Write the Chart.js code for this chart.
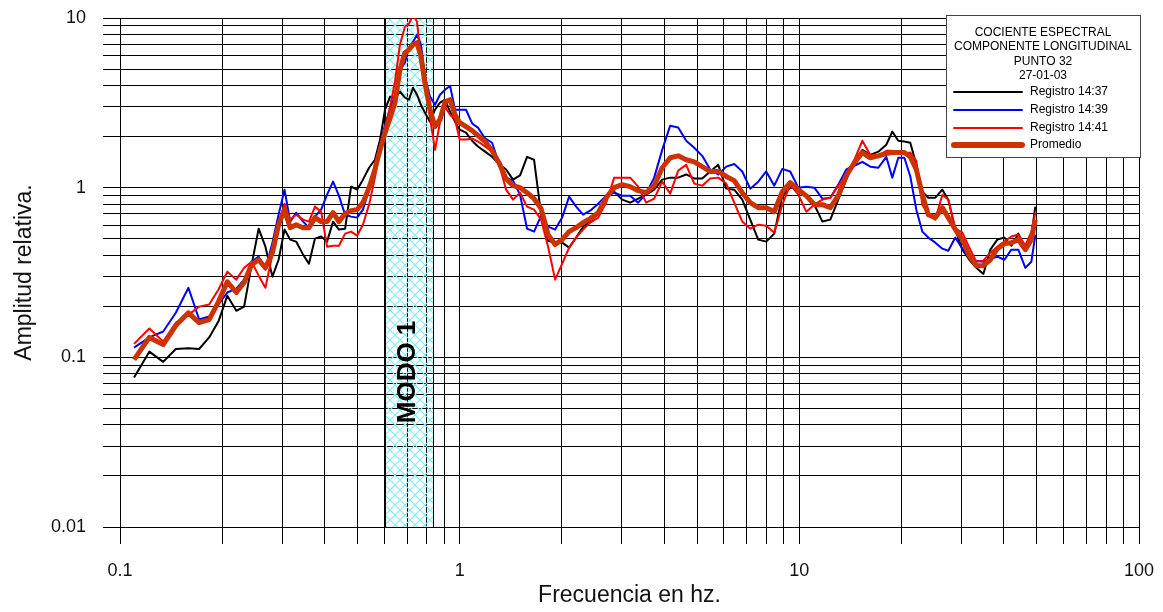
<!DOCTYPE html>
<html>
<head>
<meta charset="utf-8">
<script src="https://cdn.jsdelivr.net/npm/chart.js@4.4.1/dist/chart.umd.min.js"></script>
<style>
  html, body { margin: 0; padding: 0; background: #fff; }
  #wrap { width: 1163px; height: 612px; }
</style>
</head>
<body>
<div id="wrap"><canvas id="grafica"></canvas></div>
<script>
// frecuencias (Hz) comunes a todos los registros
const frecuencias = [
  0.110, 0.122, 0.134, 0.146, 0.159, 0.171, 0.183, 0.195, 0.207, 0.220,
  0.232, 0.244, 0.256, 0.268, 0.281, 0.293, 0.305, 0.317, 0.330, 0.346,
  0.360, 0.375, 0.391, 0.407, 0.424, 0.441, 0.460, 0.479, 0.499, 0.519,
  0.541, 0.563, 0.583, 0.603, 0.624, 0.645, 0.667, 0.690, 0.709, 0.729,
  0.749, 0.769, 0.790, 0.818, 0.846, 0.875, 0.906, 0.937, 0.969, 1.00,
  1.044, 1.088, 1.132, 1.188, 1.246, 1.306, 1.37, 1.436, 1.506, 1.579,
  1.656, 1.737, 1.821, 1.91, 2.003, 2.10, 2.202, 2.309, 2.422, 2.557,
  2.70, 2.851, 3.009, 3.177, 3.354, 3.54, 3.738, 3.947, 4.167, 4.399,
  4.644, 4.904, 5.177, 5.466, 5.77, 6.092, 6.433, 6.792, 7.17, 7.569,
  7.989, 8.437, 8.91, 9.40, 9.93, 10.48, 11.07, 11.69, 12.34, 13.02,
  13.75, 14.52, 15.33, 16.18, 17.09, 18.03, 18.78, 19.56, 20.38, 21.22,
  22.10, 23.02, 23.97, 25.14, 26.37, 27.45, 28.79, 30.20, 31.66, 33.19,
  34.81, 36.5, 38.27, 40.15, 42.09, 44.14, 46.28, 48.21, 49.53
];

const registro1437 = [
  0.076, 0.108, 0.094, 0.112, 0.113, 0.112, 0.131, 0.163, 0.231, 0.188,
  0.199, 0.351, 0.573, 0.449, 0.299, 0.376, 0.566, 0.494, 0.481, 0.403,
  0.356, 0.501, 0.515, 0.481, 0.631, 0.566, 0.573, 1.014, 0.973, 1.115,
  1.31, 1.46, 1.92, 2.88, 3.44, 3.35, 3.68, 3.39, 3.30, 3.88,
  3.53, 3.08, 2.77, 2.45, 2.88, 3.17, 3.30, 2.80, 2.45, 2.20,
  2.11, 1.89, 1.75, 1.63, 1.52, 1.38, 1.28, 1.115, 1.18, 1.52,
  1.46, 0.693, 0.487, 0.474, 0.474, 0.443, 0.508, 0.589, 0.631, 0.712,
  0.873, 0.947, 0.850, 0.816, 0.861, 0.909, 0.973, 1.115, 1.146, 1.146,
  1.196, 1.133, 1.133, 1.246, 1.364, 0.987, 0.973, 0.850, 0.648, 0.494,
  0.481, 0.536, 0.897, 1.0, 1.0, 0.897, 0.794, 0.631, 0.648, 0.850,
  1.115, 1.44, 1.67, 1.56, 1.63, 1.79, 2.14, 1.89, 1.87, 1.84,
  1.364, 0.947, 0.873, 0.873, 0.973, 0.850, 0.566, 0.431, 0.376, 0.337,
  0.31, 0.431, 0.494, 0.508, 0.455, 0.536, 0.431, 0.529, 0.773
];

const registro1439 = [
  0.114, 0.131, 0.142, 0.183, 0.257, 0.167, 0.174, 0.205, 0.241, 0.254,
  0.287, 0.366, 0.392, 0.329, 0.474, 0.693, 0.973, 0.631, 0.712, 0.631,
  0.581, 0.675, 0.742, 0.909, 1.085, 0.897, 0.693, 0.675, 0.666, 0.742,
  0.973, 1.364, 1.79, 2.35, 2.88, 3.53, 4.96, 5.45, 6.69, 7.25,
  7.97, 6.96, 4.51, 3.44, 3.08, 3.53, 3.78, 3.99, 2.88, 2.88,
  2.88, 2.39, 2.26, 1.95, 1.84, 1.38, 1.146, 1.10, 0.909, 0.573,
  0.551, 0.684, 0.589, 0.566, 0.666, 0.885, 0.773, 0.693, 0.732, 0.805,
  0.897, 0.934, 0.897, 0.897, 0.816, 0.922, 1.146, 1.67, 2.32, 2.26,
  1.89, 1.72, 1.54, 1.28, 1.196, 1.33, 1.38, 1.246, 0.987, 1.085,
  1.246, 1.028, 1.29, 1.246, 1.0, 1.014, 1.0, 0.861, 0.873, 1.042,
  1.28, 1.346, 1.42, 1.33, 1.31, 1.52, 1.146, 1.50, 1.50, 1.164,
  0.742, 0.551, 0.508, 0.474, 0.437, 0.425, 0.508, 0.437, 0.381, 0.371,
  0.366, 0.381, 0.392, 0.376, 0.431, 0.431, 0.337, 0.366, 0.529
];

const registro1441 = [
  0.120, 0.148, 0.124, 0.160, 0.178, 0.199, 0.205, 0.251, 0.320, 0.287,
  0.337, 0.366, 0.303, 0.257, 0.403, 0.605, 0.805, 0.648, 0.693, 0.648,
  0.631, 0.773, 0.722, 0.449, 0.455, 0.455, 0.536, 0.551, 0.522, 0.605,
  0.794, 1.146, 1.67, 2.26, 3.0, 4.21, 6.96, 8.88, 9.24, 10.45,
  9.50, 5.68, 4.05, 2.58, 1.67, 2.42, 3.0, 2.69, 2.52, 1.92,
  1.92, 1.95, 1.87, 1.75, 1.63, 1.38, 0.973, 0.850, 0.934, 0.773,
  0.742, 0.648, 0.449, 0.287, 0.356, 0.443, 0.508, 0.566, 0.622, 0.666,
  0.816, 1.146, 1.146, 1.146, 1.014, 0.816, 0.861, 1.085, 0.922, 1.26,
  1.364, 1.056, 1.028, 1.133, 1.146, 1.056, 0.816, 0.631, 0.573, 0.605,
  0.597, 0.543, 0.794, 1.042, 0.909, 0.722, 0.794, 0.850, 0.873, 1.028,
  1.196, 1.46, 1.89, 1.56, 1.54, 1.65, 1.65, 1.59, 1.59, 1.61,
  1.44, 0.794, 0.693, 0.648, 0.909, 0.850, 0.573, 0.543, 0.443, 0.366,
  0.371, 0.414, 0.449, 0.481, 0.515, 0.529, 0.455, 0.551, 0.712
];

const promedio = [
  0.097, 0.131, 0.119, 0.154, 0.183, 0.160, 0.167, 0.213, 0.279, 0.241,
  0.276, 0.351, 0.376, 0.337, 0.414, 0.605, 0.742, 0.581, 0.605, 0.581,
  0.581, 0.666, 0.631, 0.631, 0.712, 0.631, 0.703, 0.732, 0.742, 0.816,
  1.0, 1.28, 1.67, 2.11, 2.58, 3.17, 4.96, 6.25, 6.51, 6.96,
  7.15, 5.92, 4.16, 2.88, 2.29, 2.52, 3.21, 3.30, 2.69, 2.42,
  2.29, 2.17, 2.03, 1.87, 1.65, 1.40, 1.13, 1.028, 1.0, 0.934,
  0.861, 0.752, 0.529, 0.462, 0.494, 0.551, 0.581, 0.622, 0.657, 0.712,
  0.873, 1.0, 1.042, 1.014, 0.960, 0.934, 1.028, 1.31, 1.50, 1.54,
  1.46, 1.42, 1.33, 1.246, 1.246, 1.164, 1.10, 0.934, 0.816, 0.762,
  0.762, 0.722, 0.947, 1.07, 0.973, 0.897, 0.794, 0.794, 0.762, 0.897,
  1.18, 1.40, 1.61, 1.50, 1.54, 1.59, 1.61, 1.61, 1.61, 1.52,
  1.28, 0.909, 0.693, 0.666, 0.762, 0.666, 0.566, 0.494, 0.397, 0.347,
  0.347, 0.376, 0.437, 0.468, 0.474, 0.494, 0.431, 0.494, 0.648
];

const nombres = ['Registro 14:37', 'Registro 14:39', 'Registro 14:41', 'Promedio'];
const colores = ['#000000', '#0000ff', '#ff0000', '#cc3300'];
const grosores = [2, 2, 2, 5];

const tituloLeyenda = ['COCIENTE ESPECTRAL', 'COMPONENTE LONGITUDINAL', 'PUNTO 32', '27-01-03'];

const modoRango = [0.603, 0.835];   // Hz
const modoTexto = 'MODO 1';
const modoTextoY = 0.082;

const etiquetasX = ['0.1', '1', '10', '100'];
const etiquetasY = ['0.01', '0.1', '1', '10'];

const FUENTE = '"Liberation Sans", Arial, sans-serif';
Chart.defaults.font.family = FUENTE;

// lineas de division 1..9 en cada decada
function divisiones(etiquetas){
  let vals = [];
  for (let i = 0; i < etiquetas.length - 1; i++) {
    let base = parseFloat(etiquetas[i]);
    for (let k = 1; k < 10; k++) vals.push(+(base * k).toPrecision(6));
  }
  vals.push(parseFloat(etiquetas[etiquetas.length - 1]));
  return vals;
}

function etiqueta(lista, value){
  let e = lista.find(l => Math.abs(parseFloat(l) - value) < 1e-9 * Math.max(1, value));
  return e ? e : '';
}

function serie(valores){
  return frecuencias.map((f, i) => ({x: f, y: valores[i]}));
}

function patronTrama(ctx){
  const c = document.createElement('canvas');
  c.width = 10; c.height = 10;
  const g = c.getContext('2d');
  g.strokeStyle = '#84ecf4';
  g.lineWidth = 1.2;
  g.beginPath();
  g.moveTo(0, 0); g.lineTo(10, 10);
  g.moveTo(10, 0); g.lineTo(0, 10);
  g.stroke();
  return ctx.createPattern(c, 'repeat');
}

const bandaModo = {
  id: 'bandaModo',
  beforeDatasetsDraw(chart){
    const {ctx, chartArea} = chart;
    const sx = chart.scales.x, sy = chart.scales.y;
    const x0 = sx.getPixelForValue(modoRango[0]);
    const x1 = sx.getPixelForValue(modoRango[1]);
    const yb = sy.getPixelForValue(sy.min);
    const yt = chartArea.top;
    ctx.save();
    ctx.fillStyle = patronTrama(ctx);
    ctx.fillRect(x0, yt, x1 - x0, yb - yt);
    ctx.strokeStyle = '#000';
    ctx.lineWidth = 1;
    ctx.strokeRect(Math.round(x0) + 0.5, Math.round(yt) + 0.5, Math.round(x1 - x0), Math.round(yb - yt));
    ctx.translate((x0 + x1) / 2 - 1, sy.getPixelForValue(modoTextoY));
    ctx.rotate(-Math.PI / 2);
    ctx.font = 'bold 26px ' + FUENTE;
    ctx.textAlign = 'center';
    ctx.textBaseline = 'middle';
    ctx.fillStyle = '#000';
    ctx.fillText(modoTexto, 0, 0);
    ctx.restore();
  }
};

const leyenda = {
  id: 'leyenda',
  afterDraw(chart){
    const {ctx, chartArea} = chart;
    const izq = chartArea.right - 193;
    const arr = chartArea.top - 3;
    ctx.save();
    ctx.fillStyle = '#fff';
    ctx.fillRect(izq, arr, 194, 142);
    ctx.strokeStyle = '#444';
    ctx.lineWidth = 1;
    ctx.strokeRect(Math.round(izq) + 0.5, Math.round(arr) + 0.5, 194, 142);
    ctx.font = '12px ' + FUENTE;
    ctx.fillStyle = '#000';
    ctx.textAlign = 'center';
    ctx.textBaseline = 'middle';
    let ys = [18, 32, 47, 61];
    tituloLeyenda.forEach((t, i) => ctx.fillText(t, izq + 97, arr + ys[i]));
    let yi = [77, 95, 113, 130];
    ctx.textAlign = 'left';
    nombres.forEach((n, i) => {
      ctx.strokeStyle = colores[i];
      ctx.lineWidth = i == 3 ? 6 : 2;
      ctx.lineCap = 'round';
      ctx.beginPath();
      ctx.moveTo(izq + 8, arr + yi[i]);
      ctx.lineTo(izq + 76, arr + yi[i]);
      ctx.stroke();
      ctx.fillStyle = '#000';
      ctx.fillText(n, izq + 84, arr + yi[i]);
    });
    ctx.restore();
  }
};

const datos = [registro1437, registro1439, registro1441, promedio];
const ordenes = [3, 2, 1, 0];

let datasets = datos.map((d, i) => ({
  label: nombres[i],
  data: serie(d),
  borderColor: colores[i],
  backgroundColor: colores[i],
  borderWidth: grosores[i],
  pointRadius: 0,
  tension: 0,
  fill: false,
  borderJoinStyle: 'round',
  order: ordenes[i]
}));

new Chart(document.getElementById('grafica'), {
  type: 'line',
  data: { datasets: datasets },
  options: {
    responsive: true,
    maintainAspectRatio: false,
    animation: false,
    layout: { padding: { left: 0, right: 24, top: 18, bottom: 0 } },
    plugins: {
      legend: { display: false },
      tooltip: { enabled: false }
    },
    scales: {
      x: {
        type: 'logarithmic',
        min: 0.1,
        max: 100,
        afterBuildTicks: s => { s.ticks = divisiones(etiquetasX).map(v => ({value: v})); },
        afterFit: s => { s.height = 85; s.paddingLeft = 0; s.paddingRight = 0; },
        ticks: {
          autoSkip: false,
          maxRotation: 0,
          padding: 16,
          color: '#111',
          font: { size: 18 },
          callback: v => etiqueta(etiquetasX, v)
        },
        grid: { color: '#000', lineWidth: 1, tickLength: 17, drawTicks: true },
        border: { color: '#000' },
        title: {
          display: true,
          text: 'Frecuencia en hz.',
          color: '#111',
          font: { size: 23 },
          padding: { top: 0, bottom: 3 }
        }
      },
      y: {
        type: 'logarithmic',
        min: 0.01,
        max: 10,
        afterBuildTicks: s => { s.ticks = divisiones(etiquetasY).map(v => ({value: v})); },
        afterFit: s => { s.width = 120; s.paddingTop = 0; s.paddingBottom = 0; },
        ticks: {
          autoSkip: false,
          padding: 17,
          color: '#111',
          font: { size: 18 },
          callback: v => etiqueta(etiquetasY, v)
        },
        grid: { color: '#000', lineWidth: 1, tickLength: 17, drawTicks: true },
        border: { color: '#000' },
        title: {
          display: true,
          text: 'Amplitud relativa.',
          color: '#111',
          font: { size: 23 },
          padding: { top: 11, bottom: 0 }
        }
      }
    }
  },
  plugins: [bandaModo, leyenda]
});
</script>
</body>
</html>
